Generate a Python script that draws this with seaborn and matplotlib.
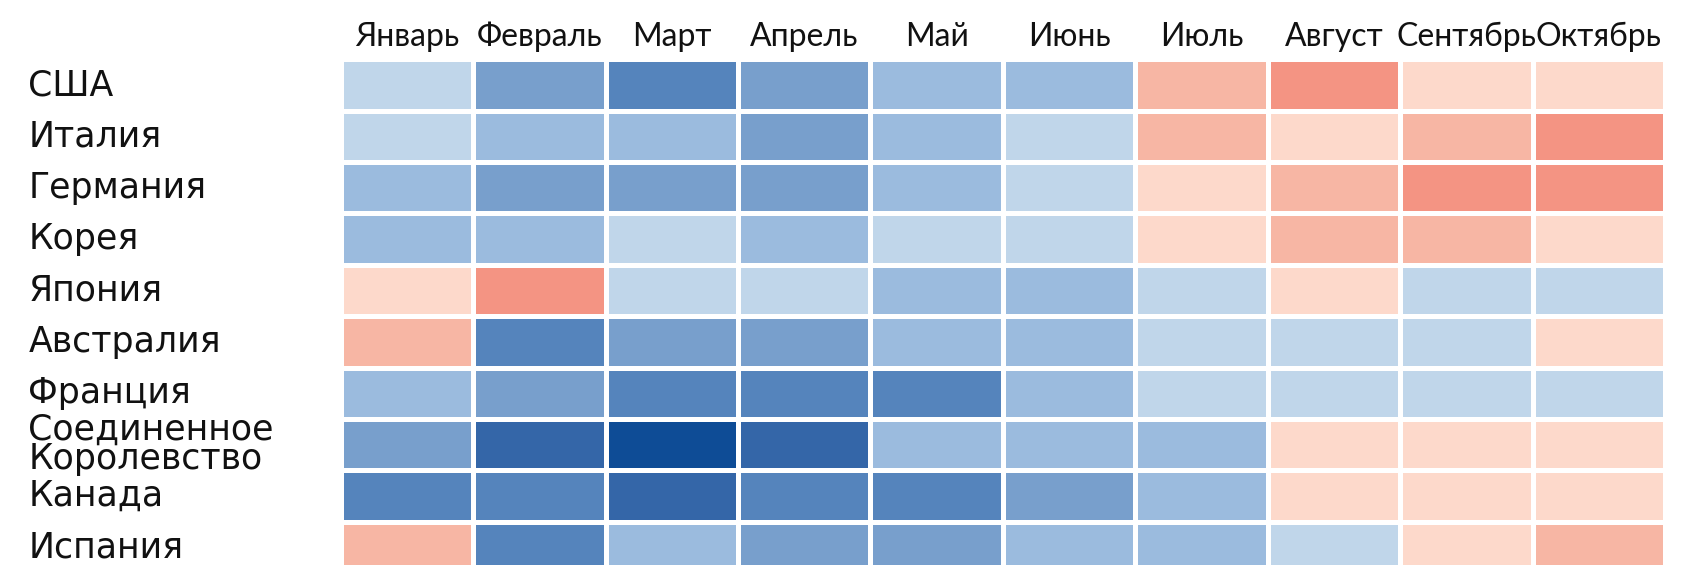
import numpy as np
import pandas as pd
import matplotlib
matplotlib.use("Agg")
import matplotlib.pyplot as plt
from matplotlib.colors import ListedColormap
import seaborn as sns

countries = ["США", "Италия", "Германия", "Корея", "Япония", "Австралия",
             "Франция", "Соединенное\nКоролевство", "Канада", "Испания"]
months = ["Январь", "Февраль", "Март", "Апрель", "Май", "Июнь",
          "Июль", "Август", "Сентябрь", "Октябрь"]

# colour level of each cell: negative = blue shades, positive = red shades
usa       = [-1, -3, -4, -3, -2, -2,  2,  3,  1,  1]
italy     = [-1, -2, -2, -3, -2, -1,  2,  1,  2,  3]
germany   = [-2, -3, -3, -3, -2, -1,  1,  2,  3,  3]
korea     = [-2, -2, -1, -2, -1, -1,  1,  2,  2,  1]
japan     = [ 1,  3, -1, -1, -2, -2, -1,  1, -1, -1]
australia = [ 2, -4, -3, -3, -2, -2, -1, -1, -1,  1]
france    = [-2, -3, -4, -4, -4, -2, -1, -1, -1, -1]
uk        = [-3, -5, -6, -5, -2, -2, -2,  1,  1,  1]
canada    = [-4, -4, -5, -4, -4, -3, -2,  1,  1,  1]
spain     = [ 2, -4, -2, -3, -3, -2, -2, -1,  1,  2]

df = pd.DataFrame([usa, italy, germany, korea, japan, australia,
                   france, uk, canada, spain], index=countries, columns=months)

# levels -6 .. 3 (0 unused)
palette = ["#0e4c96", "#3466a8", "#5584bc", "#789fcc", "#9bbbde", "#c0d6ea",
           "#ffffff", "#fdd9cb", "#f7b6a4", "#f49483"]
cmap = ListedColormap(palette)

sns.set_style("white")
plt.rcParams["font.family"] = ["DejaVu Sans"]

fig = plt.figure(figsize=(16.87, 5.65), dpi=100)
ax = fig.add_axes([0.202, -0.0142, 0.785, 0.9092])

sns.heatmap(df, ax=ax, cmap=cmap, vmin=-6.5, vmax=3.5, cbar=False,
            linewidths=2.2, linecolor="white")

ax.xaxis.tick_top()
ax.set_xlabel("")
ax.set_ylabel("")
ax.tick_params(axis="both", length=0)
ax.tick_params(axis="x", pad=5, labelcolor="#111111")
ax.tick_params(axis="y", pad=225, labelsize=25, labelcolor="#111111")
for lab in ax.get_xticklabels():
    lab.set_rotation(0)
    lab.set_family(["Lato", "DejaVu Sans"])
    lab.set_fontsize(23)
for lab in ax.get_yticklabels():
    lab.set_rotation(0)
    lab.set_horizontalalignment("left")
    if "\n" in lab.get_text():
        lab.set_fontsize(25)
        lab.set_linespacing(0.82)

fig.savefig("out.png", dpi=100)
